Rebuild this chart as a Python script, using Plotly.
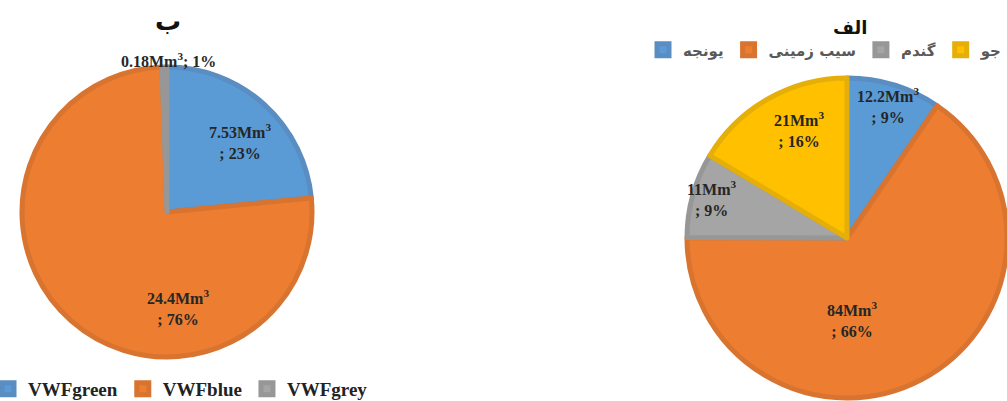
import plotly.graph_objects as go

# Left chart (ب)
left_labels = ["VWFgreen", "VWFblue", "VWFgrey"]
left_values = [7.53, 24.4, 0.18]
left_value_text = ["7.53", "24.4", "0.18"]
left_percent = [23, 76, 1]

# Right chart (الف)
right_labels = ["یونجه", "سیب زمینی", "گندم", "جو"]
right_values = [12.2, 84, 11, 21]
right_value_text = ["12.2", "84", "11", "21"]
right_percent = [9, 66, 9, 16]

BLUE, ORANGE, GREY, YELLOW = "#5B9BD5", "#ED7D31", "#A5A5A5", "#FFC000"
BLUE_L, ORANGE_L, GREY_L, YELLOW_L = "#5A8DC2", "#D8742F", "#979797", "#E6AE08"

FONT = "Liberation Serif, Times New Roman, DejaVu Serif, serif"
FA_FONT = "DejaVu Sans, Noto Sans, sans-serif"

W, H = 1007, 401


def dom_x(cx, r):
    return [(cx - r) / W, (cx + r) / W]


def dom_y(cy, r):
    return [(H - cy - r) / H, (H - cy + r) / H]


def px(x):
    return x / W


def py(y):
    return 1 - y / H


fig = go.Figure()

fig.add_trace(go.Pie(
    labels=left_labels,
    values=left_values,
    textinfo="none",
    hoverinfo="label+value+percent",
    marker=dict(colors=[BLUE, ORANGE, GREY],
                line=dict(color=[BLUE_L, ORANGE_L, GREY_L], width=5)),
    sort=False,
    direction="clockwise",
    rotation=0,
    domain=dict(x=dom_x(167, 145), y=dom_y(212, 145)),
    legend="legend",
    showlegend=True,
))

fig.add_trace(go.Pie(
    labels=right_labels,
    values=right_values,
    textinfo="none",
    hoverinfo="label+value+percent",
    marker=dict(colors=[BLUE, ORANGE, GREY, YELLOW],
                line=dict(color=[BLUE_L, ORANGE_L, GREY_L, YELLOW_L], width=5)),
    sort=False,
    direction="clockwise",
    rotation=0,
    domain=dict(x=dom_x(847, 160), y=dom_y(238, 160)),
    legend="legend2",
    showlegend=True,
))

# data-label placement (pixel centres in the 1007x401 canvas)
left_label_pos = [(240, 141), (178, 307), (168, 60)]
left_label_oneline = [False, False, True]
right_label_pos = [(888, 106), (852, 319), (712, 198), (799, 129)]

label_font = dict(family=FONT, size=16, color="#262626")
annotations = []
for v, p, (x, y), one in zip(left_value_text, left_percent, left_label_pos, left_label_oneline):
    sep = "; " if one else "<br>; "
    annotations.append(dict(
        text=f"<b>{v}Mm<sup>3</sup>{sep}{p}%</b>", x=px(x), y=py(y),
        xref="paper", yref="paper", xanchor="center", yanchor="middle",
        showarrow=False, font=label_font))
for v, p, (x, y) in zip(right_value_text, right_percent, right_label_pos):
    annotations.append(dict(
        text=f"<b>{v}Mm<sup>3</sup><br>; {p}%</b>", x=px(x), y=py(y),
        xref="paper", yref="paper", xanchor="center", yanchor="middle",
        showarrow=False, font=label_font))

annotations += [
    dict(text="<b>ب</b>", x=px(168), y=py(21), xref="paper", yref="paper",
         xanchor="center", yanchor="middle", showarrow=False,
         font=dict(family=FA_FONT, size=26, color="#111111")),
    dict(text="<b>الف</b>", x=px(850), y=py(28), xref="paper", yref="paper",
         xanchor="center", yanchor="middle", showarrow=False,
         font=dict(family=FA_FONT, size=18, color="#111111")),
]

fig.update_layout(
    width=W, height=H,
    margin=dict(l=0, r=0, t=0, b=0, autoexpand=False),
    paper_bgcolor="white",
    plot_bgcolor="white",
    legend=dict(
        orientation="h",
        x=px(-12), xanchor="left",
        y=py(389), yanchor="middle",
        font=dict(family=FONT, size=19, color="#222222", weight="bold"),
        itemwidth=30,
        bgcolor="rgba(0,0,0,0)",
    ),
    legend2=dict(
        orientation="h",
        x=1.0, xanchor="right",
        y=py(50), yanchor="middle",
        font=dict(family=FA_FONT, size=15, color="#595959", weight="bold"),
        itemwidth=30,
        bgcolor="rgba(0,0,0,0)",
    ),
    annotations=annotations,
)

fig.write_html("out.html")
